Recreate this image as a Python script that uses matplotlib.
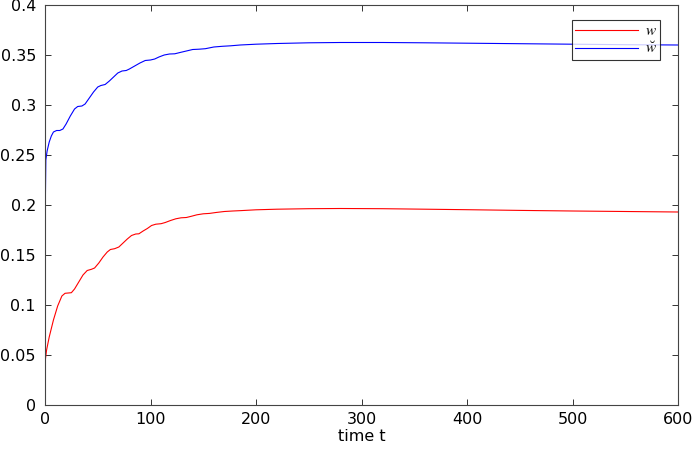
import matplotlib
matplotlib.use("Agg")
import matplotlib.pyplot as plt

t_w = [0, 0.3, 1.5, 4, 8, 12, 16, 19, 22, 25, 28, 32, 36, 40, 44, 47, 51, 55, 59, 62,
       66, 70, 74, 78, 82, 86, 89, 93, 97, 101, 105, 110, 114, 119, 124, 129, 134, 139,
       144, 150, 156, 162, 170, 178, 186, 200, 220, 250, 280, 320, 360, 400, 450, 500,
       550, 600]
w = [0, 0.045, 0.055, 0.068, 0.085, 0.099, 0.109, 0.1117, 0.112, 0.1123, 0.116, 0.123,
     0.130, 0.1345, 0.1357, 0.137, 0.142, 0.148, 0.153, 0.1555, 0.1563, 0.158, 0.162,
     0.166, 0.1695, 0.171, 0.1712, 0.174, 0.1765, 0.1795, 0.1808, 0.1813, 0.1825,
     0.1845, 0.1862, 0.1872, 0.1875, 0.1888, 0.1902, 0.1912, 0.1916, 0.1925, 0.1935,
     0.1940, 0.1944, 0.1952, 0.1958, 0.1963, 0.1965, 0.1963, 0.1958, 0.1953, 0.1946,
     0.1940, 0.1935, 0.1930]

t_wb = [0, 0.3, 0.8, 2, 4, 6, 8, 11, 14, 17, 20, 24, 28, 31, 35, 38, 42, 46, 50, 53,
        57, 61, 65, 69, 73, 77, 80, 85, 90, 95, 100, 104, 108, 113, 118, 123, 128, 134,
        140, 146, 152, 160, 168, 176, 185, 200, 220, 250, 280, 320, 360, 400, 450, 500,
        550, 600]
w_breve = [0, 0.20, 0.245, 0.254, 0.263, 0.269, 0.273, 0.2745, 0.2745, 0.276, 0.281,
           0.289, 0.296, 0.2985, 0.299, 0.301, 0.307, 0.313, 0.318, 0.3195, 0.3205,
           0.324, 0.328, 0.332, 0.334, 0.3345, 0.336, 0.339, 0.342, 0.3445, 0.345,
           0.346, 0.348, 0.350, 0.351, 0.3512, 0.3525, 0.354, 0.3555, 0.3558, 0.3563,
           0.358, 0.3587, 0.3592, 0.360, 0.3608, 0.3615, 0.3622, 0.3625, 0.3625,
           0.3622, 0.3618, 0.3613, 0.3608, 0.3603, 0.3600]

xticks = [0, 100, 200, 300, 400, 500, 600]
yticks = [0, 0.05, 0.1, 0.15, 0.2, 0.25, 0.3, 0.35, 0.4]
ytick_labels = ["0", "0.05", "0.1", "0.15", "0.2", "0.25", "0.3", "0.35", "0.4"]
labels = [r'$w$', r'$\breve{w}$']

plt.rcParams['font.family'] = ['DejaVu Sans']
plt.rcParams['mathtext.fontset'] = 'stix'

fig = plt.figure(figsize=(6.95, 4.51), dpi=100)
ax = fig.add_axes([45/695, 46/451, 633/695, 400/451])

ax.plot(t_w, w, color='#ff0000', lw=0.8, label=labels[0])
ax.plot(t_wb, w_breve, color='#0000ff', lw=0.8, label=labels[1])

ax.set_xlim(0, 600)
ax.set_ylim(0, 0.4)
ax.set_xticks(xticks)
ax.set_yticks(yticks)
ax.set_yticklabels(ytick_labels)
ax.tick_params(direction='in', length=4, width=0.7, colors='#333333', labelsize=11.5,
               top=True, right=True, labelcolor='black')
ax.tick_params(axis='y', pad=6.5)
ax.tick_params(axis='x', pad=5)
for s in ax.spines.values():
    s.set_color('#444444')
    s.set_linewidth(0.8)
ax.set_xlabel('time t', fontsize=11.5, labelpad=1.5)

leg = ax.legend(loc='upper right', bbox_to_anchor=(615/633, 385/400), fontsize=11,
                frameon=True, fancybox=False, edgecolor='black', handlelength=4.1,
                borderpad=0.22, labelspacing=0.16, handletextpad=0.45, borderaxespad=0)
leg.get_frame().set_linewidth(0.8)

fig.savefig('out.png', dpi=100)
